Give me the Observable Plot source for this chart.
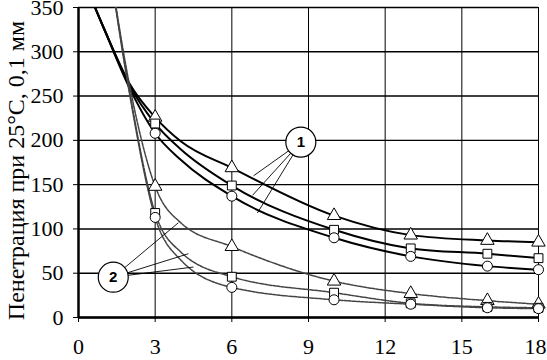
<!DOCTYPE html>
<html><head><meta charset="utf-8">
<script src="https://cdn.jsdelivr.net/npm/d3@7"></script>
<script src="https://cdn.jsdelivr.net/npm/@observablehq/plot@0.6"></script>
<style>body{margin:0;background:#fff} svg{overflow:visible}</style>
</head><body><div id="chart"></div>
<script>
// x positions of the curves (0, 1, 2, 4 are unmarked curve points)
const lineX = [0, 1, 2, 3, 4, 6, 10, 13, 16, 18];
const markerX = [3, 6, 10, 13, 16, 18];

// group 1 (solid curves)
const solidTriangle = [395, 326, 264, 226, 199, 169, 115, 93, 87, 85];
const solidSquare   = [395, 326, 262, 219, 190, 149, 99, 78, 72, 67];
const solidCircle   = [395, 326, 259, 208, 178, 137, 90, 69, 58, 54];

// group 2 (dashed curves)
const dashTriangle = [NaN, 440, 262, 148, 107, 80, 41, 27, 19, 15];
const dashSquare   = [NaN, 440, 255, 118, 74, 46, 28, 16, 12, 11];
const dashCircle   = [NaN, 440, 252, 113, 65, 34, 20, 15, 11, 10];

const xTicks = [0, 3, 6, 9, 12, 15, 18];
const yTicks = [0, 50, 100, 150, 200, 250, 300, 350];
const yLabel = "Пенетрация при 25°C, 0,1 мм";

// callout labels (data units)
const label1 = {text: "1", x: 8.7, y: 198};
const label1Targets = [[6.85, 160], [6.81, 138], [7.0, 118]];
const label2 = {text: "2", x: 1.36, y: 45.5};
const label2Targets = [[3.91, 107], [4.3, 72], [4.5, 57]];

const series = [
  {id: "s-tri", values: solidTriangle, dashed: false, symbol: "triangle"},
  {id: "s-sq", values: solidSquare, dashed: false, symbol: "square"},
  {id: "s-cir", values: solidCircle, dashed: false, symbol: "circle"},
  {id: "d-tri", values: dashTriangle, dashed: true, symbol: "triangle"},
  {id: "d-sq", values: dashSquare, dashed: true, symbol: "square"},
  {id: "d-cir", values: dashCircle, dashed: true, symbol: "circle"}
];

const rows = series.flatMap(s => lineX.map((x, i) => ({id: s.id, dashed: s.dashed, symbol: s.symbol, x, y: s.values[i]})));
const markers = rows.filter(r => markerX.includes(r.x));
const leaders = [
  ...label1Targets.map(([x2, y2]) => ({x1: label1.x, y1: label1.y, x2, y2})),
  ...label2Targets.map(([x2, y2]) => ({x1: label2.x, y1: label2.y, x2, y2}))
];
const lastTick = xTicks[xTicks.length - 1];

const serif = "'Liberation Serif', 'Times New Roman', serif";

const chart = Plot.plot({
  width: 547,
  height: 360,
  marginLeft: 78,
  marginRight: 9,
  marginTop: 7,
  marginBottom: 43,
  style: {fontFamily: serif, fontSize: "22px", color: "black", background: "white", overflow: "visible"},
  x: {domain: [0, 18], ticks: xTicks, tickSize: 5, tickFormat: () => "", label: null},
  y: {domain: [0, 350], ticks: yTicks, tickSize: 5, tickPadding: 10, label: null},
  marks: [
    Plot.ruleY(yTicks, {stroke: "black", strokeWidth: 1.4}),
    Plot.ruleX(xTicks, {stroke: "black", strokeWidth: 1}),
    Plot.ruleX([0], {stroke: "black", strokeWidth: 2.5}),
    Plot.ruleY([0], {stroke: "black", strokeWidth: 2.5}),
    Plot.line(rows.filter(r => !r.dashed), {x: "x", y: "y", z: "id", curve: "monotone-x", stroke: "black", strokeWidth: 2, clip: true}),
    Plot.line(rows.filter(r => r.dashed), {x: "x", y: "y", z: "id", curve: "monotone-x", stroke: "#444", strokeWidth: 1.5, strokeDasharray: "3,1.2", clip: true}),
    Plot.link(leaders, {x1: "x1", y1: "y1", x2: "x2", y2: "y2", stroke: "black", strokeWidth: 0.9}),
    Plot.dot(markers.filter(d => d.symbol === "triangle"), {x: "x", y: "y", symbol: "triangle", r: 5, fill: "white", stroke: "black", strokeWidth: 1}),
    Plot.dot(markers.filter(d => d.symbol === "square"), {x: "x", y: "y", symbol: "square", r: 5, fill: "white", stroke: "black", strokeWidth: 1}),
    Plot.dot(markers.filter(d => d.symbol === "circle"), {x: "x", y: "y", symbol: "circle", r: 5, fill: "white", stroke: "black", strokeWidth: 1}),
    Plot.dot([label1, label2], {x: "x", y: "y", r: 15, fill: "white", stroke: "black", strokeWidth: 1.2}),
    Plot.text([label1, label2], {x: "x", y: "y", text: "text", fontFamily: "'Liberation Sans', Arial, sans-serif", fontWeight: "bold", fontSize: 15}),
    // x tick labels
    Plot.text(xTicks.filter(t => t !== lastTick), {x: d => d, y: () => 0, text: d => String(d), dy: 29, lineAnchor: "middle", fontSize: 22}),
    Plot.text([lastTick], {x: d => d, y: () => 0, text: d => String(d), dy: 29, dx: 8, textAnchor: "end", lineAnchor: "middle", fontSize: 22}),
    Plot.text([yLabel], {frameAnchor: "left", text: d => d, textAnchor: "middle", rotate: -90, dx: -62, dy: 8, fontSize: 24})
  ]
});
document.getElementById("chart").appendChild(chart);
</script>
</body></html>
